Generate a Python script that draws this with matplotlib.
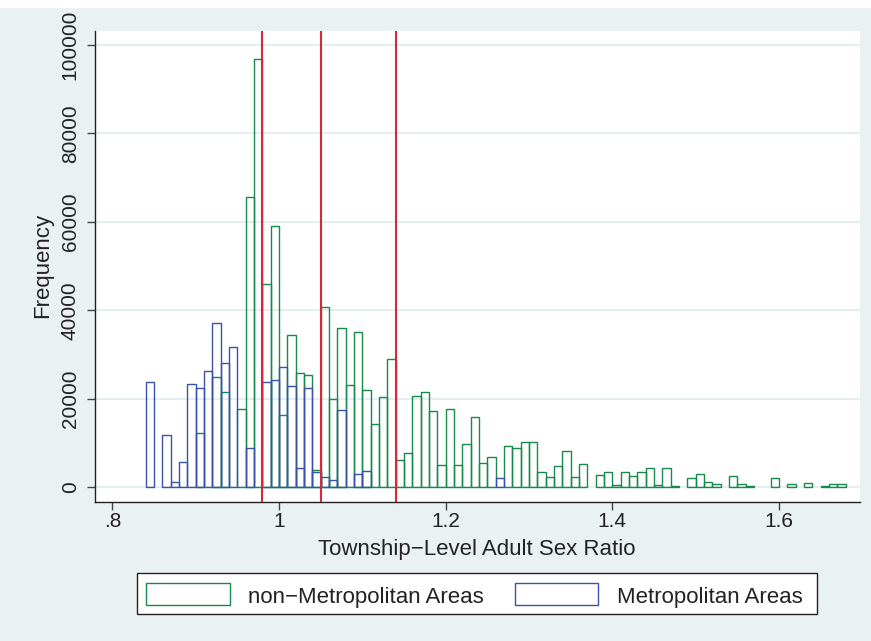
import numpy as np
import matplotlib
matplotlib.use("Agg")
import matplotlib.pyplot as plt
from matplotlib.patches import Rectangle

plt.rcParams['font.family'] = ['Liberation Sans', 'DejaVu Sans']

# histogram bins (left edges), width 0.01
bin_lefts = [round(0.84 + 0.01 * i, 2) for i in range(84)]

non_metro = [0, 0, 0, 0, 0, 0, 12340, 0, 25000, 21600,
             0, 17630, 65540, 96860, 45940, 59120, 16340, 34350, 25760, 25450,
             3910, 40820, 19890, 36070, 23120, 35030, 21990, 14310, 20340, 28930,
             6100, 7820, 20700, 21600, 17240, 5040, 17620, 5040, 9720, 15950,
             5560, 6780, 0, 9400, 8810, 10170, 10170, 3390, 2400, 4880,
             8200, 2400, 5200, 0, 2780, 3390, 520, 3390, 2620, 3390,
             4290, 520, 4290, 230, 0, 2170, 2940, 1270, 680, 0,
             2620, 680, 360, 0, 0, 2030, 0, 680, 0, 900,
             0, 360, 680, 680]

metro = [23730, 0, 11820, 1130, 5790, 23280, 22510, 26350, 37060, 28020,
         31640, 0, 8810, 0, 23870, 24180, 27250, 22960, 4290, 22510,
         3390, 2260, 1650, 17470, 0, 2940, 3620, 0, 0, 0,
         0, 0, 0, 0, 0, 0, 0, 0, 0, 0,
         0, 0, 2170, 0, 0, 0, 0, 0, 0, 0,
         0, 0, 0, 0, 0, 0, 0, 0, 0, 0,
         0, 0, 0, 0, 0, 0, 0, 0, 0, 0,
         0, 0, 0, 0, 0, 0, 0, 0, 0, 0,
         0, 0, 0, 0]

cutoffs = [0.98, 1.05, 1.14]

green = '#17894A'
blue = '#3A52A8'
red = '#D6283A'
bg = '#EAF1F3'

W, H = 871, 641
fig = plt.figure(figsize=(W / 100, H / 100), dpi=100, facecolor=bg)
# white strip on top
fig.patches.append(Rectangle((0, 1 - 8 / H), 1, 8 / H, transform=fig.transFigure,
                             facecolor='white', edgecolor='none', zorder=0))

ax = fig.add_axes([95 / W, 1 - 502 / H, (860 - 95) / W, (502 - 31) / H])
ax.set_facecolor('white')

x = np.array(bin_lefts)
g = np.array(non_metro)
b = np.array(metro)
ax.bar(x[g > 0], g[g > 0], width=0.01, align='edge', facecolor='none',
       edgecolor=green, linewidth=1.0, zorder=2)
ax.bar(x[b > 0], b[b > 0], width=0.01, align='edge', facecolor='none',
       edgecolor=blue, linewidth=1.0, zorder=3)

for c in cutoffs:
    ax.axvline(c, color=red, linewidth=1.5, zorder=4)

ax.set_xlim(0.7792, 1.6972)
ax.set_ylim(-3322, 103120)
ax.set_xticks([0.8, 1.0, 1.2, 1.4, 1.6])
ax.set_xticklabels(['.8', '1', '1.2', '1.4', '1.6'])
ax.set_yticks([0, 20000, 40000, 60000, 80000, 100000])
ax.set_yticklabels(['0', '20000', '40000', '60000', '80000', '100000'],
                   rotation=90, va='center')
ax.tick_params(axis='both', labelsize=15, color='#444444', length=6, width=1,
               labelcolor='#222222')
ax.tick_params(axis='x', pad=1)
ax.tick_params(axis='y', pad=5)

ax.grid(axis='y', color='#E6EEF1', linewidth=1.5, zorder=0)
ax.set_axisbelow(True)
for s in ['top', 'right']:
    ax.spines[s].set_visible(False)
for s in ['left', 'bottom']:
    ax.spines[s].set_color('#222222')
    ax.spines[s].set_linewidth(1.0)

fig.text(477 / W, 1 - 555 / H, 'Township\u2212Level Adult Sex Ratio', ha='center',
         va='baseline', fontsize=16, color='#222222')
fig.text(43 / W, 1 - 265 / H, 'Frequency', ha='center', va='center', rotation=90,
         fontsize=16, color='#222222')

# legend drawn by hand in pixel coordinates
def px_rect(x0, y0, x1, y1, **kw):
    return Rectangle((x0 / W, 1 - y1 / H), (x1 - x0) / W, (y1 - y0) / H,
                     transform=fig.transFigure, **kw)

fig.patches.append(px_rect(137, 572.5, 817, 614, facecolor='white',
                           edgecolor='#222222', linewidth=1.0))
fig.patches.append(px_rect(146, 582.5, 229.5, 605, facecolor='white',
                           edgecolor=green, linewidth=1.0))
fig.patches.append(px_rect(514.5, 582.5, 597.5, 605, facecolor='white',
                           edgecolor=blue, linewidth=1.0))
fig.text(247.5 / W, 1 - 603 / H, 'non\u2212Metropolitan Areas', ha='left',
         va='baseline', fontsize=16, color='#222222')
fig.text(617 / W, 1 - 603 / H, 'Metropolitan Areas', ha='left',
         va='baseline', fontsize=16, color='#222222')

fig.savefig('out.png', dpi=100, facecolor=bg)
